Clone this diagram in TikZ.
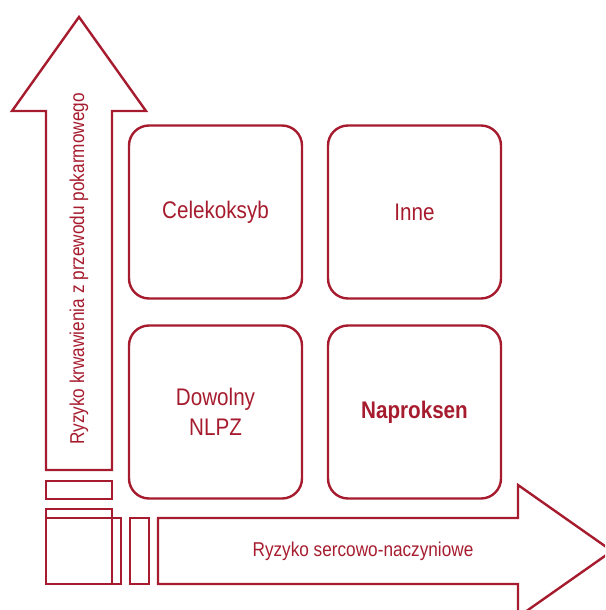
\documentclass[tikz,border=0pt]{standalone}
\usepackage{fontspec}
\setmainfont{Liberation Sans}[FakeStretch=0.86]
\usepackage{xcolor}
\definecolor{nsaidred}{RGB}{166,28,46}

\tikzset{
    riskbox/.style={draw=nsaidred, line width=2.4pt, rounded corners=20pt, minimum width=173pt, minimum height=173pt, text=nsaidred, align=center, font=\fontsize{24}{30}\selectfont},
    bigarrow/.style={draw=nsaidred, line width=2.4pt, line join=miter},
    axislabel/.style={text=nsaidred, font=\fontsize{20}{24}\selectfont}
}

\begin{document}
\begin{tikzpicture}[x=1pt, y=-1pt]
        \useasboundingbox (0,0) rectangle (605,610);
        \clip (0,0) rectangle (605,610);
        % the four drug boxes
        \node[riskbox] (celecoxib) at (215.5,212) {Celekoksyb};
        \node[riskbox] (other) at (414.5,212) {Inne};
        \node[riskbox] (anynsaid) at (215.5,412) {Dowolny\\NLPZ};
        \node[riskbox, font=\fontsize{24}{30}\selectfont\bfseries] (naproxen) at (414.5,412) {Naproksen};
        % vertical arrow: bleeding risk
        \draw[bigarrow] (46,470) -- (46,111) -- (12,111) -- (79,17) -- (146,111) -- (112,111) -- (112,470) -- cycle;
        \node[axislabel, rotate=90] (gilabel) at (79,269) {Ryzyko krwawienia z przewodu pokarmowego};
        % horizontal arrow: cardiovascular risk
        \draw[bigarrow] (158,518) -- (518,518) -- (518,485) -- (612,551) -- (518,617) -- (518,584) -- (158,584) -- cycle;
        \node[axislabel] (cvlabel) at (363,551) {Ryzyko sercowo-naczyniowe};
        % small blocks in the corner
        \draw[bigarrow] (46,481) rectangle (112,499);
        \draw[bigarrow] (46,509) rectangle (112,584);
        \draw[bigarrow] (46,518) rectangle (121,584);
        \draw[bigarrow] (130,518) rectangle (149,584);
\end{tikzpicture}
\end{document}
